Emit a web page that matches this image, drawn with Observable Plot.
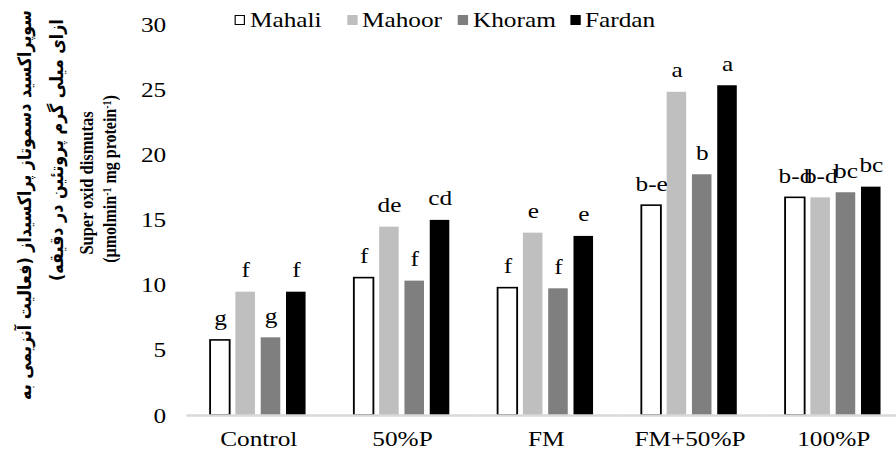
<!DOCTYPE html>
<html>
<head>
<meta charset="utf-8">
<script src="https://cdn.jsdelivr.net/npm/d3@7"></script>
<script src="https://cdn.jsdelivr.net/npm/@observablehq/plot@0.6"></script>
<style>
html,body{margin:0;padding:0;background:#fff;overflow:hidden;width:896px;height:458px}
#wrap{position:relative;width:779.13px;height:458px;font-family:"Liberation Serif","Times New Roman",serif;color:#000;transform:scaleX(1.15);transform-origin:0 0}
#wrap svg{position:absolute;left:0;top:0}
#legend{position:absolute;left:0;top:6px;width:779px;height:28px;font-size:22px;line-height:28px}
#legend .item{position:absolute;top:0;display:flex;align-items:center;gap:4px;white-space:nowrap}
#legend .sw{width:9px;height:10.5px;box-sizing:border-box}
.ytitle{position:absolute;white-space:nowrap;font-weight:bold;transform:translate(-50%,-50%) rotate(-90deg);line-height:1}
.fa{font-family:"DejaVu Sans",sans-serif;direction:rtl}
.en{font-family:"Liberation Serif","Times New Roman",serif}
.ytitle sup{font-size:0.62em;vertical-align:0.45em;line-height:0}
</style>
</head>
<body>
<div id="wrap"></div>
<script>
// ---- data ----
const categories = ["Control", "50%P", "FM", "FM+50%P", "100%P"];
const series = ["Mahali", "Mahoor", "Khoram", "Fardan"];
const seriesColors = ["#ffffff", "#bfbfbf", "#7f7f7f", "#000000"];

const mahali = [5.76, 10.54, 9.77, 16.1, 16.7];
const mahoor = [9.46, 14.45, 13.99, 24.8, 16.7];
const khoram = [5.96, 10.31, 9.72, 18.47, 17.09];
const fardan = [9.46, 14.97, 13.74, 25.3, 17.52];

const mahaliLetters = ["g", "f", "f", "b-e", "b-d"];
const mahoorLetters = ["f", "de", "e", "a", "b-d"];
const khoramLetters = ["g", "f", "f", "b", "bc"];
const fardanLetters = ["f", "cd", "e", "a", "bc"];

const yTicks = [0, 5, 10, 15, 20, 25, 30];

const yTitleFa1 = "سوپراکسید دسموتاز پراکسیداز (فعالیت آنزیمی به";
const yTitleFa2 = "ازای میلی گرم پروتئین  در دقیقه)";
const yTitleEn1 = "Super oxid dismutas";
const yTitleEn2 = ["(µmolmin", "-1", " mg protein", "-1", ")"];

// ---- build table ----
const allValues = [mahali, mahoor, khoram, fardan];
const allLetters = [mahaliLetters, mahoorLetters, khoramLetters, fardanLetters];
const rows = [];
categories.forEach((c, i) => {
  series.forEach((s, j) => {
    rows.push({category: c, series: s, value: allValues[j][i], letter: allLetters[j][i]});
  });
});

// the reference picture is horizontally stretched; the layout is drawn at 1/1.15 width and stretched by CSS
const sx = 1.15;
const serifStack = "'Liberation Serif','Times New Roman',serif";

const chart = Plot.plot({
  width: 896 / sx,
  height: 458,
  marginLeft: 185.5 / sx,
  marginRight: (896 - 905.5) / sx,
  marginTop: 24,
  marginBottom: 43,
  style: {fontFamily: serifStack, fontSize: "22px", background: "transparent", color: "#000", overflow: "visible"},
  fx: {domain: categories, padding: 0, label: null, tickSize: 0, tickPadding: 15},
  x: {domain: series, paddingInner: 0.234, paddingOuter: 0.875, axis: null},
  y: {domain: [0, 30], ticks: yTicks, tickSize: 0, tickPadding: 18, label: null, tickFormat: d => String(d)},
  color: {domain: series, range: seriesColors},
  marks: [
    Plot.barY(rows.filter(d => d.series !== "Mahali"), {fx: "category", x: "series", y: "value", fill: "series"}),
    Plot.barY(rows.filter(d => d.series === "Mahali"), {fx: "category", x: "series", y: "value", fill: "#ffffff", stroke: "#000000", strokeWidth: 1.6}),
    Plot.ruleY([0], {stroke: "#d9d9d9", strokeWidth: 2.5}),
    Plot.text(rows, {fx: "category", x: "series", y: "value", text: "letter", lineAnchor: "bottom", dy: -15, fontSize: 22, fill: "#000", fontFamily: serifStack})
  ]
});

const wrap = document.getElementById("wrap");
wrap.appendChild(chart);

// ---- legend ----
const legendLefts = [235, 347, 458, 570].map(v => v / sx);
const legend = document.createElement("div");
legend.id = "legend";
series.forEach((s, j) => {
  const item = document.createElement("div");
  item.className = "item";
  item.style.left = legendLefts[j] + "px";
  const sw = document.createElement("span");
  sw.className = "sw";
  sw.style.background = seriesColors[j];
  if (s === "Mahali") sw.style.border = "1.2px solid #000";
  const lab = document.createElement("span");
  lab.textContent = s;
  item.appendChild(sw);
  item.appendChild(lab);
  legend.appendChild(item);
});
wrap.appendChild(legend);

// ---- rotated y title lines ----
function addTitle(cls, content, cx, cy, target, fixedSize) {
  const el = document.createElement("div");
  el.className = "ytitle " + cls;
  if (Array.isArray(content)) {
    content.forEach((t, k) => {
      const node = k % 2 === 1 ? document.createElement("sup") : document.createElement("span");
      node.textContent = t;
      el.appendChild(node);
    });
  } else {
    el.textContent = content;
  }
  el.style.fontSize = "20px";
  el.style.left = (cx / sx) + "px";
  el.style.top = cy + "px";
  wrap.appendChild(el);
  let size = 20;
  if (fixedSize) size = fixedSize;
  else {
    const w = el.offsetWidth;
    if (w > 0) size = 20 * target / w;
  }
  el.style.fontSize = size.toFixed(2) + "px";
  return size;
}
const faSize = addTitle("fa", yTitleFa1, 25, 205, 390);
addTitle("fa", yTitleFa2, 57, 150, 0, faSize);
addTitle("en", yTitleEn1, 87, 183, 143);
addTitle("en", yTitleEn2, 110, 179, 168);
</script>
</body>
</html>
